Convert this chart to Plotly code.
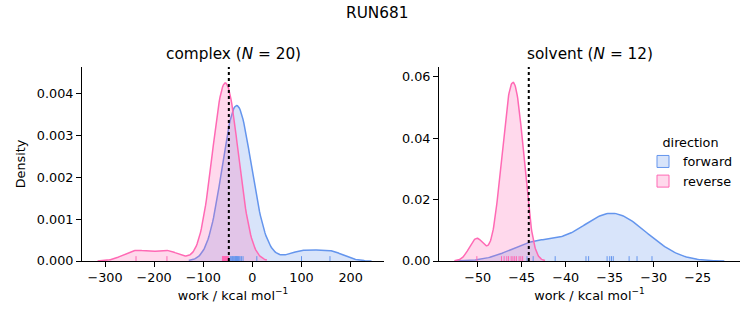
import numpy as np
import plotly.graph_objects as go

# ---------------- data ----------------
run_name = "RUN681"
phases = ["complex", "solvent"]
directions = ["forward", "reverse"]

complex_forward = [-45, -43, -41, -40, -38, -37, -35, -34, -33, -32, -31, -30,
                   -28, -27, -25, -22, -19, 9, 100, 158]
complex_reverse = [-237, -174, -61, -60, -59.5, -59, -58, -57.5, -57, -56,
                   -55.5, -55, -54, -53.5, -53, -52, -51.5, -51, -50, -49]
solvent_forward = [-44.4, -43.7, -41.2, -37.7, -37.4, -35.3, -35.0, -34.8,
                   -34.6, -32.8, -31.9, -30.2]
solvent_reverse = [-50.1, -47.3, -47.0, -46.7, -46.5, -46.2, -46.0, -45.8,
                   -45.6, -45.3, -45.1, -44.9]
free_energy = {"complex": -48.0, "solvent": -44.2}

samples = {
    ("complex", "forward"): complex_forward,
    ("complex", "reverse"): complex_reverse,
    ("solvent", "forward"): solvent_forward,
    ("solvent", "reverse"): solvent_reverse,
}
n_cycles = {"complex": 20, "solvent": 12}

complex_xticks = [-300, -200, -100, 0, 100, 200]
solvent_xticks = [-50, -45, -40, -35, -30, -25]
complex_yticks = [0.000, 0.001, 0.002, 0.003, 0.004]
solvent_yticks = [0.00, 0.02, 0.04, 0.06]

# ---------------- style ----------------
FONT = "DejaVu Sans"
edge = {"forward": "rgb(100,149,237)", "reverse": "rgb(255,105,180)"}
fillc = {"forward": "rgba(100,149,237,0.25)", "reverse": "rgba(255,105,180,0.25)"}

n_all = sum(len(v) for v in samples.values())


def kde(vals, weight, gridsize=200, cut=3):
    x = np.asarray(vals, float)
    n = len(x)
    bw = x.std(ddof=1) * n ** (-1 / 5)
    grid = np.linspace(x.min() - cut * bw, x.max() + cut * bw, gridsize)
    d = np.exp(-0.5 * ((grid[:, None] - x[None, :]) / bw) ** 2).sum(1)
    d = d / (n * bw * np.sqrt(2 * np.pi))
    return grid, d * weight


W, H = 753, 325
xdom = {"complex": [82 / W, 384 / W], "solvent": [439 / W, 740 / W]}
ydom = [(H - 261) / H, (H - 67) / H]
xax = {"complex": "x", "solvent": "x2"}
yax = {"complex": "y", "solvent": "y2"}

fig = go.Figure()
shapes = []
for ph in phases:
    for dr in directions:
        vals = samples[(ph, dr)]
        g, d = kde(vals, len(vals) / n_all)
        fig.add_trace(go.Scatter(
            x=g, y=d, mode="lines", fill="tozeroy", fillcolor=fillc[dr],
            line=dict(color=edge[dr], width=1.5), showlegend=False,
            xaxis=xax[ph], yaxis=yax[ph], hoverinfo="skip"))
    for dr in directions:
        for v in samples[(ph, dr)]:
            shapes.append(dict(type="line", xref=xax[ph], yref=yax[ph] + " domain",
                               x0=v, x1=v, y0=0, y1=0.025,
                               line=dict(color=edge[dr], width=1)))
    shapes.append(dict(type="line", xref=xax[ph], yref=yax[ph] + " domain",
                       x0=free_energy[ph], x1=free_energy[ph], y0=0, y1=1,
                       line=dict(color="black", width=2, dash="dot")))

for dr in directions:
    fig.add_trace(go.Bar(x=[None], y=[None], name=dr,
                         marker=dict(color=fillc[dr], line=dict(color=edge[dr], width=1)),
                         xaxis="x2", yaxis="y2", showlegend=True))

axis_common = dict(showline=True, linecolor="black", linewidth=1, ticks="outside",
                   ticklen=5, tickwidth=1, tickcolor="black", showgrid=False,
                   zeroline=False, mirror=False, automargin=False,
                   tickfont=dict(family=FONT, size=12.8, color="black"))

fig.update_layout(
    width=W, height=H, margin=dict(l=0, r=0, t=0, b=0, autoexpand=False),
    plot_bgcolor="white", paper_bgcolor="white",
    font=dict(family=FONT, color="black"),
    xaxis=dict(domain=xdom["complex"], anchor="y", range=[-347, 268],
               tickvals=complex_xticks,
               title=dict(text="work / kcal mol<sup>−1</sup>", standoff=6,
                          font=dict(family=FONT, size=12.8)), **axis_common),
    yaxis=dict(domain=ydom, anchor="x", range=[0, 0.00464],
               tickvals=complex_yticks, tickformat=".3f",
               title=dict(text="Density", standoff=8,
                          font=dict(family=FONT, size=12.8)), **axis_common),
    xaxis2=dict(domain=xdom["solvent"], anchor="y2", range=[-54.4, -20.2],
                tickvals=solvent_xticks,
                title=dict(text="work / kcal mol<sup>−1</sup>", standoff=6,
                           font=dict(family=FONT, size=12.8)), **axis_common),
    yaxis2=dict(domain=ydom, anchor="x2", range=[0, 0.0632],
                tickvals=solvent_yticks, tickformat=".2f", **axis_common),
    shapes=shapes,
    showlegend=True,
    legend=dict(x=643 / W, y=1 - 130 / H, xanchor="left", yanchor="top",
                bgcolor="rgba(255,255,255,0)",
                title=dict(text="direction", side="top center",
                           font=dict(family=FONT, size=12.8)),
                font=dict(family=FONT, size=12.8), tracegroupgap=0),
    annotations=[
        dict(text=run_name, x=0.5, y=1 - 13 / H, xref="paper", yref="paper",
             xanchor="center", yanchor="middle",
             showarrow=False, font=dict(family=FONT, size=15.3)),
        dict(text=f"complex (<i>N</i> = {n_cycles['complex']})",
             x=sum(xdom["complex"]) / 2, y=1 - 54 / H, xref="paper", yref="paper",
             xanchor="center", yanchor="middle",
             showarrow=False, font=dict(family=FONT, size=15.3)),
        dict(text=f"solvent (<i>N</i> = {n_cycles['solvent']})",
             x=sum(xdom["solvent"]) / 2, y=1 - 54 / H, xref="paper", yref="paper",
             xanchor="center", yanchor="middle",
             showarrow=False, font=dict(family=FONT, size=15.3)),
    ],
)

fig.write_html("out.html")
